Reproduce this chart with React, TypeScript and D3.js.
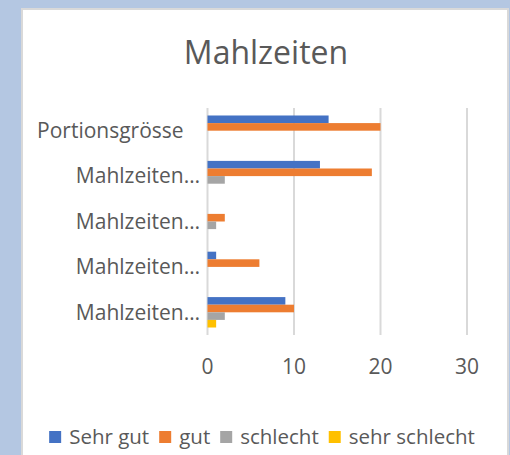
import { scaleBand, scaleLinear } from 'd3'

const width = 510
const height = 455

const title = 'Mahlzeiten'
const categories = ['Portionsgrösse\u00a0\u00a0\u00a0', 'Mahlzeiten…', 'Mahlzeiten…', 'Mahlzeiten…', 'Mahlzeiten…']
const seriesNames = ['Sehr gut', 'gut', 'schlecht', 'sehr schlecht']
const sehrGut = [14, 13, 0, 1, 9]
const gut = [20, 19, 2, 6, 10]
const schlecht = [0, 2, 1, 0, 2]
const sehrSchlecht = [0, 0, 0, 0, 1]
const xTicks = [0, 10, 20, 30]
const colors = ['#4472c4', '#ed7d31', '#a5a5a5', '#ffc000']

const series = [sehrGut, gut, schlecht, sehrSchlecht]

const font = '"Open Sans", "Noto Sans", sans-serif'
const textColor = '#595959'

const plot = { left: 207.5, right: 467, top: 108, bottom: 335 }

const measure = (text: string, size: number) => {
  const ctx = document.createElement('canvas').getContext('2d')
  if (!ctx) return text.length * size * 0.5
  ctx.font = `${size}px ${font}`
  return ctx.measureText(text).width
}

function App() {
  const xScale = scaleLinear().domain([0, 30]).range([plot.left, plot.right])

  const yScale = scaleBand<number>()
    .domain(categories.map((_, i) => i))
    .range([plot.top, plot.bottom])
    .paddingInner(0.33)
    .paddingOuter(0.165)

  const inner = scaleBand<number>()
    .domain(seriesNames.map((_, i) => i))
    .range([0, yScale.bandwidth()])

  // legend layout: square, gap, text, gap
  const legendSize = 20.5
  const sq = 12
  const items = seriesNames.map((name) => ({ name, w: measure(name, legendSize) }))
  const totalW = items.reduce((s, it) => s + sq + 8 + it.w, 0) + 10 * (items.length - 1)
  let lx = 262 - totalW / 2
  const legendItems = items.map((it, i) => {
    const x = lx
    lx += sq + 8 + it.w + 10
    return { ...it, x, color: colors[i] }
  })
  const legendY = 437

  return (
    <svg
      width={width}
      height={height}
      style={{ position: 'absolute', left: 0, top: 0 }}
      fontFamily={font}
    >
      <rect width={width} height={height} fill="#b4c7e2" />
      <rect x={22} y={9} width={486} height={height} fill="#fff" stroke="#d9d9d9" strokeWidth={2} />

      <text x={266} y={53} dy="0.35em" textAnchor="middle" fontSize={32} fill={textColor}>
        {title}
      </text>

      {xTicks.map((t) => (
        <g key={t} transform={`translate(${xScale(t)},0)`}>
          <line y1={plot.top} y2={plot.bottom} stroke="#d9d9d9" strokeWidth={2} />
          <text y={367} dy="0.35em" textAnchor="middle" fontSize={21} fill={textColor}>
            {t}
          </text>
        </g>
      ))}

      {categories.map((c, i) => (
        <text
          key={i}
          x={200}
          y={(yScale(i) ?? 0) + yScale.bandwidth() / 2}
          dy="0.35em"
          textAnchor="end"
          fontSize={21}
          fill={textColor}
          style={{ whiteSpace: 'pre' }}
        >
          {c}
        </text>
      ))}

      {series.map((values, s) =>
        values.map((v, i) =>
          v > 0 ? (
            <rect
              key={`${s}-${i}`}
              x={xScale(0)}
              y={(yScale(i) ?? 0) + (inner(s) ?? 0)}
              width={xScale(v) - xScale(0)}
              height={inner.bandwidth()}
              fill={colors[s]}
            />
          ) : null
        )
      )}

      {legendItems.map((it) => (
        <g key={it.name}>
          <rect x={it.x} y={legendY - sq / 2} width={sq} height={sq} fill={it.color} />
          <text x={it.x + sq + 8} y={legendY} dy="0.35em" fontSize={legendSize} fill={textColor}>
            {it.name}
          </text>
        </g>
      ))}
    </svg>
  )
}

export default App
